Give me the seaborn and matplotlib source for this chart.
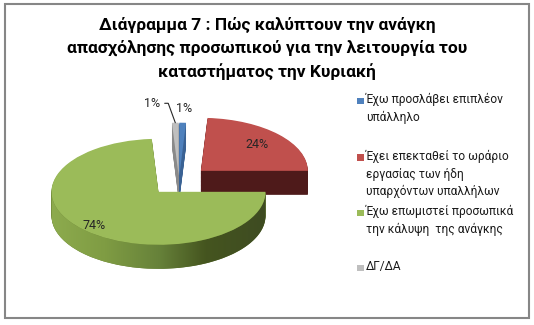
import numpy as np
import seaborn as sns
import matplotlib.pyplot as plt
from matplotlib.patches import Polygon, Rectangle
from matplotlib.colors import LinearSegmentedColormap

sns.set_theme(style="white")
plt.rcParams['font.family'] = ['Roboto', 'DejaVu Sans']

# δεδομένα
categories = ["Έχω προσλάβει επιπλέον\nυπάλληλο",
              "Έχει επεκταθεί το ωράριο\nεργασίας των ήδη\nυπαρχόντων υπαλλήλων",
              "Έχω επωμιστεί προσωπικά\nτην κάλυψη  της ανάγκης",
              "ΔΓ/ΔΑ"]
values = [1, 24, 74, 1]
title = ("Διάγραμμα 7 : Πώς καλύπτουν την ανάγκη\n"
         "απασχόλησης προσωπικού για την λειτουργία του\n"
         "καταστήματος την Κυριακή")

top_colors = ["#4F81BD", "#C0504D", "#9BBB59", "#BFBFBF"]
side_colors = ["#3A6294", "#4E1A1A", "#62792F", "#8A8A8A"]
explode = [0.1, 0.28, 0.28, 0.1]
label_dist = [1.27, 0.72, 0.88, 1.3]

# γεωμετρία σε pixels
W, H = 534, 325
rx, ry = 107, 53        # ημιάξονες έλλειψης
depth = 24              # πάχος πίτας
cx_px, cy_px = 179, 181

fig = plt.figure(figsize=(W / 100, H / 100), dpi=100)
ax = fig.add_axes([0, 0, 1, 1])

cx, cy = cx_px / rx, (H - cy_px) / ry
d = depth / ry

# πλευρές: στρώσεις από κάτω προς τα πάνω
n_layers = 30
for k in range(n_layers, 0, -1):
    ax.pie(values, colors=side_colors, explode=explode, startangle=90,
           counterclock=False, center=(cx, cy - d * k / n_layers),
           wedgeprops=dict(linewidth=0, zorder=1))

# πάνω επιφάνεια
wedges, _ = ax.pie(values, colors=top_colors, explode=explode, startangle=90,
                   counterclock=False, center=(cx, cy),
                   wedgeprops=dict(linewidth=0, zorder=3))

# διαβάθμιση στην μπροστινή πλευρά του πράσινου
green_cmap = LinearSegmentedColormap.from_list(
    "gs", [(0, "#8DAB4E"), (0.25, "#7F9C43"), (0.5, "#67823A"),
           (0.72, "#45551F"), (1, "#3E4B22")])
w = wedges[2]
t1, t2 = w.theta1 % 360, w.theta2 % 360 or 360
a0, a1 = max(t1, 180), min(t2, 360)
t = np.radians(np.linspace(a0, a1, 100))
gx, gy = w.center
top_arc = np.column_stack([gx + np.cos(t), gy + np.sin(t)])
bot_arc = top_arc[::-1] - [0, d]
side = Polygon(np.vstack([top_arc, bot_arc]), closed=True,
               facecolor="none", edgecolor="none")
ax.add_patch(side)
grad = np.linspace(0, 1, 256).reshape(1, -1)
im = ax.imshow(grad, cmap=green_cmap, aspect="auto", zorder=2,
               extent=(gx - 1, gx + 1, gy - 1 - d, gy + 0.1))
im.set_clip_path(side)

# ετικέτες ποσοστών
for i, (wd, v) in enumerate(zip(wedges, values)):
    m = np.radians((wd.theta1 + wd.theta2) / 2)
    px = wd.center[0] + label_dist[i] * np.cos(m)
    py = wd.center[1] + label_dist[i] * np.sin(m)
    if i == 3:
        tip = (wd.center[0] + np.cos(m), wd.center[1] + np.sin(m))
        ax.annotate(f"{v}%", xy=tip, xytext=(-11, 14), textcoords="offset points",
                    ha="right", va="center", fontsize=9, color="#262626", zorder=5,
                    arrowprops=dict(arrowstyle="-", color="#262626", lw=0.8,
                                    connectionstyle="angle,angleA=0,angleB=110,rad=0",
                                    shrinkA=1, shrinkB=0, relpos=(1, 0.5)))
    else:
        ax.text(px, py, f"{v}%", ha="center", va="center", fontsize=9,
                color="#262626", zorder=5)

ax.set_aspect("auto")
ax.set_xlim(0, W / rx)
ax.set_ylim(0, H / ry)
ax.axis("off")

# τίτλος
fig.text(0.5, 1 - 17 / H, title, ha="center", va="top", fontsize=12.5,
         fontweight="bold", color="black", linespacing=1.5)

# υπόμνημα
leg_y = [100, 157, 212, 267]
for lab, col, y in zip(categories, top_colors, leg_y):
    fig.patches.append(Rectangle((357 / W, 1 - (y + 4) / H), 6.5 / W, 6.5 / H,
                                 transform=fig.transFigure, facecolor=col,
                                 edgecolor="none"))
    fig.text(366 / W, 1 - (y - 7) / H, lab, ha="left", va="top", fontsize=8.6,
             color="#1a1a1a", linespacing=1.45)

# περίγραμμα
fig.patches.append(Rectangle((5 / W, 1 - 318 / H), 524 / W, 314 / H,
                             transform=fig.transFigure, facecolor="none",
                             edgecolor="#868686", linewidth=1.5))

fig.savefig("out.png", dpi=100)
